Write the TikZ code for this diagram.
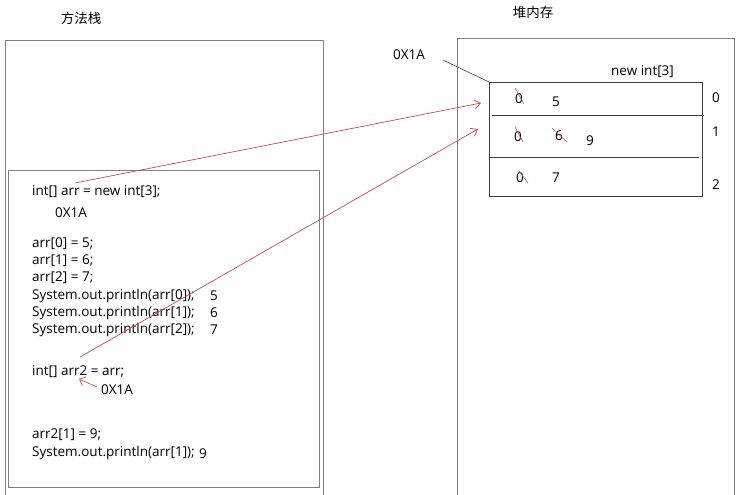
\documentclass[tikz,border=0pt]{standalone}
\usepackage{fontspec}
\setmainfont{Open Sans}
\newfontfamily\cjk{Noto Sans CJK SC}
\usetikzlibrary{arrows.meta}
\definecolor{redline}{RGB}{200,75,75}
\definecolor{boxgray}{RGB}{128,128,128}
\definecolor{arrgray}{RGB}{64,64,64}
\tikzset{
  code/.style={anchor=west,inner sep=0pt,yshift=-2pt,font=\fontsize{13.5}{16}\selectfont},
  title/.style={inner sep=0pt,font=\cjk\fontsize{13.5}{16}\selectfont},
  redarrow/.style={draw=redline,line width=0.7pt,-{Straight Barb[length=6pt,width=9pt]}},
  strike/.style={draw=redline,line width=0.6pt},
}
\begin{document}
\begin{tikzpicture}[x=1pt,y=-1pt]
\useasboundingbox (0,0) rectangle (736,495);
% titles
\node[title] (t1) at (81,18) {方法栈};
\node[title] (t2) at (533,12) {堆内存};
% left boxes
\draw[boxgray,line width=0.8pt] (5,498) -- (5,40) -- (323,40) -- (323,498);
\draw[boxgray,line width=0.8pt] (8,170) rectangle (319,487);
% right box
\draw[boxgray,line width=0.8pt] (457,498) -- (457,38) -- (734,38) -- (734,498);
% array box
\draw[arrgray,line width=0.8pt] (489,82) rectangle (702,196);
\draw[arrgray,line width=0.8pt] (492,115) -- (704,115);
\draw[arrgray,line width=0.6pt] (489,157) -- (699,157);
% code
\node[code] (c1) at (32,190) {int[] arr = new int[3];};
\node[code] (c2) at (55,211) {0X1A};
\node[code] (c3) at (32,242) {arr[0] = 5;};
\node[code] (c4) at (32,259) {arr[1] = 6;};
\node[code] (c5) at (32,276) {arr[2] = 7;};
\node[code] (c6) at (32,294) {System.out.println(arr[0]);};
\node[code] (c7) at (32,311) {System.out.println(arr[1]);};
\node[code] (c8) at (32,328) {System.out.println(arr[2]);};
\node[code] (o1) at (210,294) {5};
\node[code] (o2) at (210,311) {6};
\node[code] (o3) at (210,328) {7};
\node[code] (c9) at (32,370) {int[] arr2 = arr;};
\node[code] (c10) at (101,388) {0X1A};
\node[code] (c11) at (32,433) {arr2[1] = 9;};
\node[code] (c12) at (32,451) {System.out.println(arr[1]);};
\node[code] (o4) at (199,452) {9};
% heap texts
\node[code] (h0) at (393,53) {0X1A};
\node[code] (hn) at (611,70) {new int[3]};
\node[code] (a00) at (515,97) {0};
\node[code] (a01) at (552,100) {5};
\node[code] (a10) at (514,135) {0};
\node[code] (a11) at (555,134) {6};
\node[code] (a12) at (586,139) {9};
\node[code] (a20) at (516,176) {0};
\node[code] (a21) at (552,176) {7};
\node[code] (i0) at (712,96) {0};
\node[code] (i1) at (712,130) {1};
\node[code] (i2) at (712,183) {2};
% strikes
\draw[strike] (515,88) -- (524,104);
\draw[strike] (515,127) -- (523,142);
\draw[strike] (552,128) -- (567,142);
\draw[strike] (519,171) -- (528,183);
% address pointer line
\coordinate (arrtl) at (489,82);
\draw[arrgray,line width=0.6pt] (443,60) -- (arrtl);
% red arrows
\coordinate (s1) at (75,183);
\coordinate (e1) at (481,103);
\coordinate (s2) at (80,357);
\coordinate (e2) at (478,129);
\draw[redarrow] (s1) -- (e1);
\draw[redarrow] (s2) -- (e2);
\coordinate (s3) at (97,387);
\coordinate (e3) at (79,379);
\draw[redarrow,-{Straight Barb[length=5pt,width=9pt]}] (s3) -- (e3);
\end{tikzpicture}
\end{document}
